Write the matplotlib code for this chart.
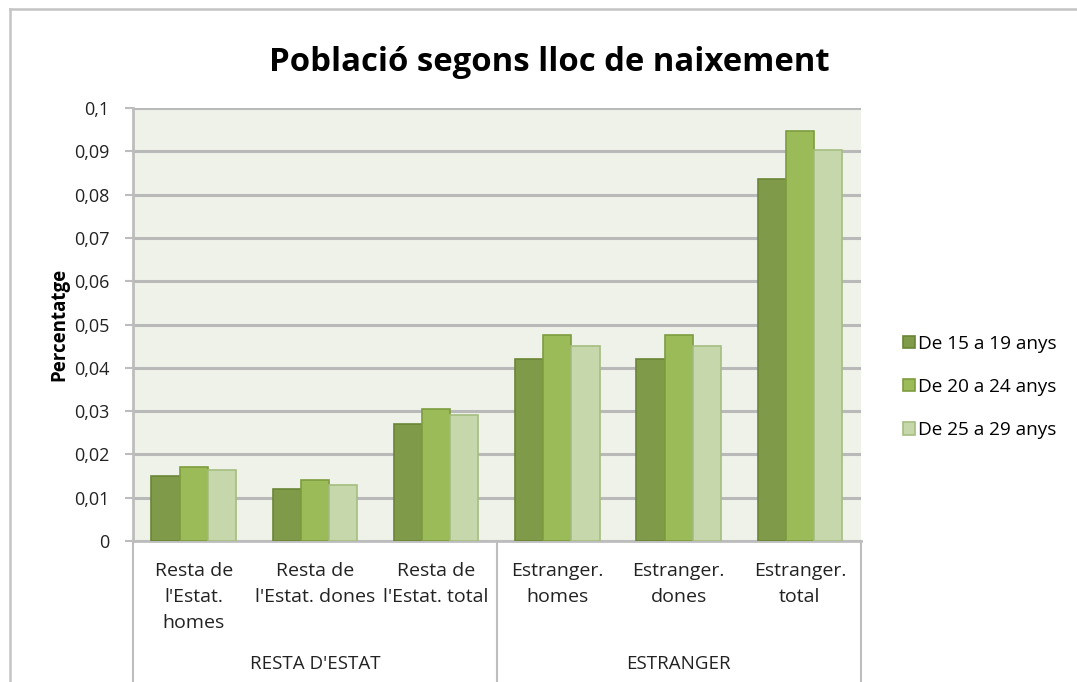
import numpy as np
import matplotlib.pyplot as plt
from matplotlib.lines import Line2D
from matplotlib.ticker import MultipleLocator, FuncFormatter

plt.rcParams['font.family'] = ['Open Sans', 'DejaVu Sans']

categories = ["Resta de\nl'Estat.\nhomes", "Resta de\nl'Estat. dones", "Resta de\nl'Estat. total",
              "Estranger.\nhomes", "Estranger.\ndones", "Estranger.\ntotal"]
groups = ["RESTA D'ESTAT", "ESTRANGER"]
series_names = ["De 15 a 19 anys", "De 20 a 24 anys", "De 25 a 29 anys"]
age_15_19 = [0.015, 0.012, 0.027, 0.042, 0.042, 0.0837]
age_20_24 = [0.017, 0.014, 0.0305, 0.0475, 0.0475, 0.0948]
age_25_29 = [0.0165, 0.0129, 0.029, 0.045, 0.045, 0.0902]

FILLS = ['#7f9a48', '#9bbb59', '#c6d7ab']
EDGES = ['#6b8537', '#7e9c3f', '#a5bd80']
GRID = '#b9b9b9'
AXIS = '#bdbdbd'
TXT = '#222222'

fig = plt.figure(figsize=(10.77, 6.82), dpi=100)
ax = fig.add_axes([0.1235, 0.2067, 0.799 - 0.1235, 0.8416 - 0.2067])
ax.set_facecolor('#eff2e8')

x = np.arange(len(categories))
w = 0.232
for i, vals in enumerate([age_15_19, age_20_24, age_25_29]):
    ax.bar(x + (i - 1) * w, vals, w, color=FILLS[i], edgecolor=EDGES[i],
           linewidth=1.2, label=series_names[i], zorder=3)

ax.set_xlim(-0.5, len(categories) - 0.5)
ax.set_ylim(0, 0.1)
ax.yaxis.set_major_locator(MultipleLocator(0.01))
ax.yaxis.set_major_formatter(FuncFormatter(
    lambda v, p: '0' if abs(v) < 1e-9 else ('%g' % round(v, 3)).replace('.', ',')))
ax.grid(axis='y', color=GRID, linewidth=2.2, zorder=1)
ax.tick_params(axis='y', length=6, width=1.5, color=AXIS, labelsize=13,
               labelcolor=TXT, pad=11)
ax.tick_params(axis='x', length=0, labelbottom=False)
for s in ['top', 'right']:
    ax.spines[s].set_visible(False)
ax.spines['left'].set_color(AXIS)
ax.spines['left'].set_linewidth(2)
ax.spines['bottom'].set_color(AXIS)
ax.spines['bottom'].set_linewidth(2)

ax.set_ylabel('Percentatge', fontsize=13.5, fontweight='bold')
ax.yaxis.set_label_coords(-0.088, 0.5)

# category labels (two levels)
trans = ax.get_xaxis_transform()
for xi, lab in zip(x, categories):
    ax.text(xi, -0.049, lab, transform=trans, ha='center', va='top',
            fontsize=14, linespacing=1.58, color=TXT)
for gi, g in enumerate(groups):
    ax.text(gi * 3 + 1, -0.283, g, transform=trans, ha='center', va='center',
            fontsize=13.5, color=TXT)
for sx in [-0.5, 2.5, 5.5]:
    ax.plot([sx, sx], [0, -0.325], transform=trans, color=AXIS,
            linewidth=1.5, clip_on=False)

ax.legend(loc='center left', bbox_to_anchor=(1.0406, 0.356), frameon=False,
          fontsize=13.7, handlelength=0.63, handleheight=0.63, handletextpad=0.16,
          labelspacing=1.32, borderpad=0.2)

fig.suptitle('Població segons lloc de naixement', x=0.51, y=0.909,
             fontsize=23.7, fontweight='bold', va='center')

# outer chart frame (left and top edges)
fig.add_artist(Line2D([10 / 1077, 10 / 1077], [0, 1 - 9 / 682],
                      color='#c4c4c4', linewidth=1.8))
fig.add_artist(Line2D([10 / 1077, 1], [1 - 9 / 682, 1 - 9 / 682],
                      color='#c4c4c4', linewidth=1.8))

fig.savefig('out.png', dpi=100)
